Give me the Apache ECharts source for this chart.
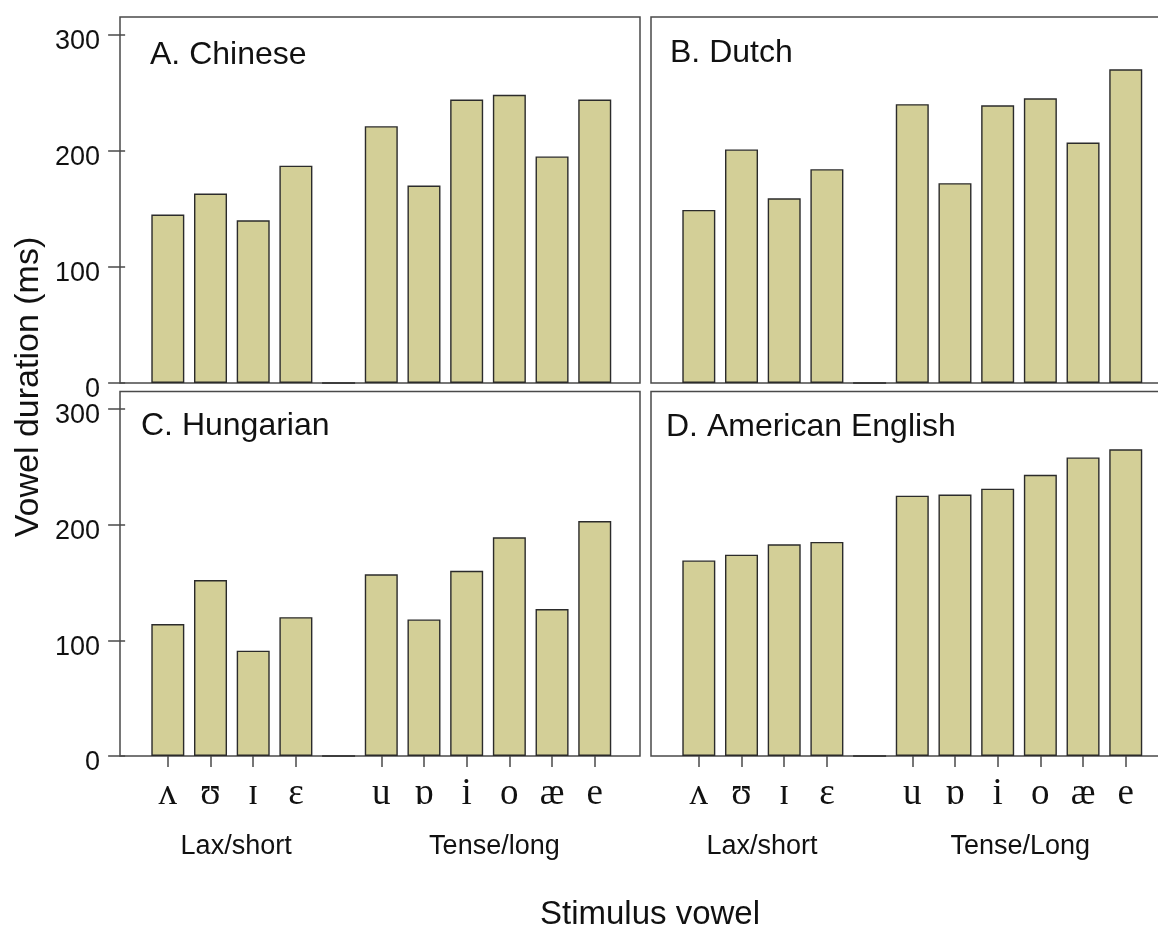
<!DOCTYPE html>
<html>
<head>
<meta charset="utf-8">
<script src="https://cdn.jsdelivr.net/npm/echarts@6/dist/echarts.min.js"></script>
<style>
  html, body { margin: 0; padding: 0; background: #ffffff; }
  #chart { width: 1158px; height: 927px; }
</style>
</head>
<body>
<div id="chart"></div>
<script>
// Stimulus vowels (the empty slot separates the two vowel groups)
const vowels = ['ʌ', 'ʊ', 'ɪ', 'ɛ', '', 'u', 'ɒ', 'i', 'o', 'æ', 'e'];

// Mean vowel duration (ms) per language
const chinese   = [145, 163, 140, 187, 0, 221, 170, 244, 248, 195, 244];
const dutch     = [149, 201, 159, 184, 0, 240, 172, 239, 245, 207, 270];
const hungarian = [114, 152,  91, 120, 0, 157, 118, 160, 189, 127, 203];
const american  = [169, 174, 183, 185, 0, 225, 226, 231, 243, 258, 265];

const panelTitles = ['A. Chinese', 'B. Dutch', 'C. Hungarian', 'D. American English'];
const groupLabelsLeft  = ['Lax/short', 'Tense/long'];
const groupLabelsRight = ['Lax/short', 'Tense/Long'];
const yTicks = [0, 100, 200, 300];
const yTitle = 'Vowel duration (ms)';
const xTitle = 'Stimulus vowel';

const panelData = [chinese, dutch, hungarian, american];

const FONT = '"Liberation Sans", Arial, sans-serif';
const SERIF = '"Liberation Serif", "DejaVu Serif", "Times New Roman", serif';
const BAR_FILL = '#d3cf97';
const BAR_EDGE = '#2b2b2b';
const FRAME = '#4a4a4a';
const TEXT = '#111111';

const X_MIN = -0.12, X_MAX = 12.06, Y_MAX = 315;

const grids = [
  { left: 120, top: 17,    width: 520, height: 366 },
  { left: 651, top: 17,    width: 520, height: 366 },
  { left: 120, top: 391.5, width: 520, height: 364.5 },
  { left: 651, top: 391.5, width: 520, height: 364.5 }
].map(g => Object.assign({
  show: true,
  backgroundColor: 'transparent',
  borderColor: FRAME,
  borderWidth: 1.5,
  containLabel: false,
  outerBoundsMode: 'none'
}, g));

// positions of bars on the value x-axis (1..11); the empty slot gets no tick
const barPositions = vowels.map((v, i) => i + 1);
const tickPositions = barPositions.filter((p, i) => vowels[i] !== '');

const xAxes = [];
const yAxes = [];
const series = [];

for (let p = 0; p < 4; p++) {
  const isBottom = p >= 2;
  const isLeft = p % 2 === 0;

  xAxes.push({
    type: 'value',
    gridIndex: p,
    position: 'bottom',
    min: X_MIN,
    max: X_MAX,
    axisLine: { show: false },
    splitLine: { show: false },
    axisTick: {
      show: isBottom,
      customValues: tickPositions,
      length: 11,
      lineStyle: { color: FRAME, width: 1.5 }
    },
    axisLabel: {
      show: isBottom,
      customValues: tickPositions,
      formatter: v => vowels[Math.round(v) - 1],
      fontFamily: SERIF,
      fontSize: 37,
      color: TEXT,
      margin: 20
    }
  });

  yAxes.push({
    type: 'value',
    gridIndex: p,
    min: 0,
    max: Y_MAX,
    axisLine: { show: false },
    splitLine: { show: false },
    axisTick: {
      show: isLeft,
      customValues: yTicks,
      length: 17,
      lineStyle: { color: FRAME, width: 1.5 }
    },
    axisLabel: {
      show: isLeft,
      customValues: yTicks,
      fontFamily: FONT,
      fontSize: 27,
      color: TEXT,
      margin: 20,
      verticalAlign: 'top',
      lineHeight: 14
    }
  });

  series.push({
    type: 'bar',
    xAxisIndex: p,
    yAxisIndex: p,
    barWidth: 33,
    itemStyle: { color: BAR_FILL, borderColor: BAR_EDGE, borderWidth: 1.4 },
    data: panelData[p].map((v, i) => [barPositions[i], v]),
    animation: false,
    silent: true
  });
}

const titlePos = [[150, 39], [670, 37], [141, 410], [666, 411]];

const option = {
  animation: false,
  backgroundColor: '#ffffff',
  title: panelTitles.map((t, i) => ({
    text: t,
    left: titlePos[i][0],
    top: titlePos[i][1],
    padding: 0,
    textStyle: { fontFamily: FONT, fontSize: 32, fontWeight: 'normal', color: TEXT }
  })),
  grid: grids,
  xAxis: xAxes,
  yAxis: yAxes,
  series: series
};

const chart = echarts.init(document.getElementById('chart'), null, { renderer: 'canvas' });
chart.setOption(option);

// group labels under the vowel symbols, placed through the lower panels' x scales
const groupSpecs = [
  { grid: 2, labels: groupLabelsLeft,  at: [2.6, 8.65] },
  { grid: 3, labels: groupLabelsRight, at: [2.48, 8.53] }
];
const graphics = [];
groupSpecs.forEach(spec => {
  spec.labels.forEach((lab, k) => {
    const px = chart.convertToPixel({ xAxisIndex: spec.grid }, spec.at[k]);
    graphics.push({
      type: 'text',
      x: px,
      y: 847,
      style: {
        text: lab,
        fontFamily: FONT,
        fontSize: 27,
        fill: TEXT,
        align: 'center',
        verticalAlign: 'middle'
      }
    });
  });
});
graphics.push({
  type: 'text',
  x: 29,
  y: 387,
  rotation: Math.PI / 2,
  style: {
    text: yTitle,
    fontFamily: FONT,
    fontSize: 34,
    fill: TEXT,
    align: 'center',
    verticalAlign: 'middle'
  }
});
graphics.push({
  type: 'text',
  x: 650,
  y: 915,
  style: {
    text: xTitle,
    fontFamily: FONT,
    fontSize: 33,
    fill: TEXT,
    align: 'center',
    verticalAlign: 'middle'
  }
});
chart.setOption({ graphic: graphics });
</script>
</body>
</html>
